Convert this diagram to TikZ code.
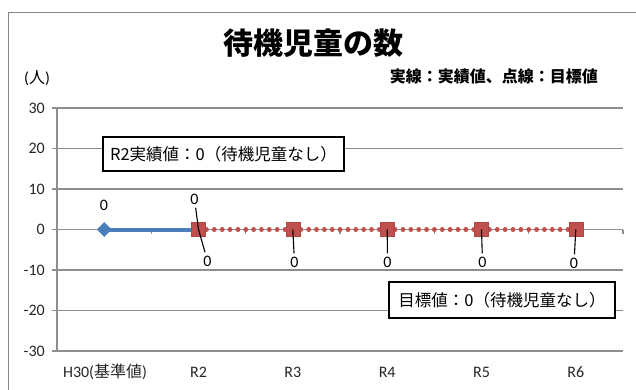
\documentclass[tikz,border=0pt]{standalone}
\usepackage{fontspec}
\setmainfont{Carlito}
\newfontfamily\jp{Noto Sans CJK JP}
\usetikzlibrary{shapes.geometric}
\definecolor{frameg}{HTML}{868686}
\definecolor{gridg}{HTML}{8E8E8E}
\definecolor{serA}{HTML}{4A7EBB}
\definecolor{serB}{HTML}{C0504D}
\tikzset{
  gridline/.style={gridg, line width=1.3pt},
  axlab/.style={font=\fontsize{16}{18}\selectfont, text=black!85, inner sep=0pt},
  datlab/.style={font=\fontsize{16}{18}\selectfont, inner sep=1pt, outer sep=2.5pt},
  leader/.style={black, line width=1.1pt},
  diamark/.style={diamond, fill=serA, minimum width=15pt, minimum height=15pt, inner sep=0pt},
  sqmark/.style={rectangle, fill=serB, draw=serB!90!black, line width=0.4pt, minimum size=14pt, inner sep=0pt},
  notebox/.style={draw=black, line width=1.2pt, fill=white, inner sep=0pt,
    font=\jp\fontsize{16.5}{18}\selectfont},
}
\begin{document}
\begin{tikzpicture}[x=1pt,y=-1pt]
\useasboundingbox (0,0) rectangle (636,389);
\fill[white] (0,0) rectangle (636,389);
% chart frame
\draw[frameg, line width=1.3pt] (8.5,395) -- (8.5,12.5) -- (642,12.5);
% title & notes
\node (title) at (313,43) {\jp\bfseries\fontsize{30}{32}\selectfont 待機児童の数};
\node[anchor=east, inner sep=0pt] (note) at (598,76) {\jp\bfseries\fontsize{16}{18}\selectfont 実線：実績値、点線：目標値};
\node[inner sep=0pt] (unit) at (37,78) {\fontsize{16}{18}\selectfont ({\jp 人})};
% gridlines and y labels
\foreach \v in {30,20,10,0,-10,-20,-30}{
  \pgfmathsetmacro{\yy}{229.5-4.05*\v}
  \draw[gridline] (57,\yy) -- (623,\yy);
  \draw[gridline] (52,\yy) -- (57,\yy);
  \node[axlab, anchor=east] (y\v) at (45,\yy) {\v};
}
\draw[gridline] (57,108) -- (57,351);
% x ticks
\foreach \k in {1,...,6}{
  \draw[gridline] ({57+94.33*\k},229.5) -- ({57+94.33*\k},234);
}
% x labels
\node[axlab] (xH) at (105,372) {H30({\jp 基準値})};
\node[axlab] (x2) at (198.5,372) {R2};
\node[axlab] (x3) at (292.8,372) {R3};
\node[axlab] (x4) at (387.2,372) {R4};
\node[axlab] (x5) at (481.5,372) {R5};
\node[axlab] (x6) at (575.8,372) {R6};
% data points
\coordinate (p1) at (104.2,229.5);
\coordinate (p2) at (198.5,229.5);
\coordinate (p3) at (292.8,229.5);
\coordinate (p4) at (387.2,229.5);
\coordinate (p5) at (481.5,229.5);
\coordinate (p6) at (575.8,229.5);
% series lines
\draw[serA, line width=4pt] (p1) -- (p2);
\draw[serB, line width=4.6pt, line cap=round, dash pattern=on 0.2pt off 7.66pt] (p2) -- (p3) -- (p4) -- (p5) -- (p6);
% markers
\node[diamark] (m1) at (p1) {};
\node[sqmark] (m2) at (p2) {};
\node[sqmark] (m3) at (p3) {};
\node[sqmark] (m4) at (p4) {};
\node[sqmark] (m5) at (p5) {};
\node[sqmark] (m6) at (p6) {};
% data labels
\node[datlab] (l1) at (104,205) {0};
\node[datlab] (l2a) at (194.5,199) {0};
\node[datlab] (l2b) at (207.5,261) {0};
\node[datlab] (l3) at (294.5,262) {0};
\node[datlab] (l4) at (387.5,262) {0};
\node[datlab] (l5) at (482.5,262) {0};
\node[datlab] (l6) at (574,263) {0};
% leader lines
\draw[leader] (l2a) -- (p2) -- (l2b);
\draw[leader] (p3) -- (l3);
\draw[leader] (p4) -- (l4);
\draw[leader] (p5) -- (l5);
\draw[leader] (p6) -- (l6);
% note boxes
\node[notebox, minimum width=241pt, minimum height=34pt] (box1) at (223.5,154) {R2実績値：0（待機児童なし）};
\node[notebox, minimum width=226pt, minimum height=36pt] (box2) at (502,300) {目標値：0（待機児童なし）};
\end{tikzpicture}
\end{document}
